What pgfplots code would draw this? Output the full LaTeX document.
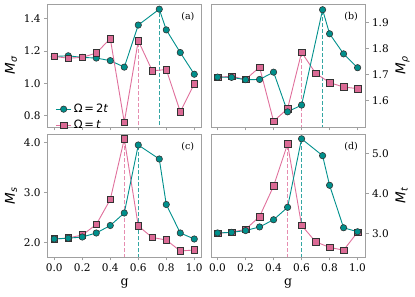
\documentclass[border=0pt]{standalone}
\usepackage{fontspec}
\setmainfont{DejaVu Serif}
\newfontfamily\dvs{DejaVu Sans}
\usepackage{pgfplots}
\pgfplotsset{compat=1.18}
\usepgfplotslibrary{groupplots}
\definecolor{tealc}{HTML}{00908C}
\definecolor{pinkc}{HTML}{E0709C}
\definecolor{pinkf}{HTML}{DB6A95}
\definecolor{edgec}{HTML}{333333}
\definecolor{spine}{HTML}{A0A0A0}
\pgfplotsset{
  gser/.style={color=tealc, line width=0.9pt, mark=*, mark size=3.2pt, mark options={solid, fill=tealc, draw=edgec, line width=0.6pt}},
  pser/.style={color=pinkc, line width=0.9pt, mark=square*, mark size=3.3pt, mark options={solid, fill=pinkf, draw=edgec, line width=0.6pt}},
  gdash/.style={color=tealc!80, dash pattern=on 4pt off 2pt, line width=1.3pt, no marks, forget plot},
  pdash/.style={color=pinkc!80, dash pattern=on 4pt off 2pt, line width=1.3pt, no marks, forget plot},
}
\tikzset{plab/.style={font=\fontsize{9.5}{11}\selectfont}}
\newcommand{\yl}[1]{{\dvs\fontsize{13.5}{15}\selectfont\itshape M\textsubscript{#1}}}
\begin{document}
\begin{tikzpicture}
\begin{groupplot}[
  group style={group size=2 by 2, horizontal sep=9.3pt, vertical sep=7pt, xticklabels at=edge bottom},
  width=154pt, height=123pt, scale only axis,
  xmin=-0.047, xmax=1.053,
  xtick={0,0.2,0.4,0.6,0.8,1.0},
  xtick pos=bottom,
  /pgf/number format/fixed, /pgf/number format/fixed zerofill, /pgf/number format/precision=1, /pgf/number format/assume math mode=true,
  ticklabel style={font=\fontsize{10.5}{12}\selectfont},
  axis line style={spine, line width=0.9pt},
  tick style={spine, line width=0.8pt},
  tick align=outside, major tick length=3.5pt,
  label style={font=\fontsize{12.5}{14}\selectfont},
]
%(a)
\nextgroupplot[ymin=0.73, ymax=1.49, ytick={0.8,1.0,1.2,1.4}, ytick pos=left, ylabel={\yl{σ}},
  legend style={at={(0.03,-0.06)}, anchor=south west, draw=none, fill=none, font={\dvs\fontsize{11.5}{13}\selectfont}, row sep=2pt},
  legend image code/.code={\draw[mark repeat=2,mark phase=2] plot coordinates {(0cm,0cm) (0.27cm,0cm) (0.54cm,0cm)};},
  legend cell align=left]
\addplot[pdash] coordinates {(0.6,0) (0.6,1.263)};
\addplot[gdash] coordinates {(0.75,0) (0.75,1.458)};
\addplot[gser] coordinates {(0,1.166) (0.1,1.170) (0.2,1.160) (0.3,1.156) (0.4,1.140) (0.5,1.100) (0.6,1.360) (0.75,1.458) (0.8,1.330) (0.9,1.190) (1.0,1.056)};
\addlegendentry{Ω\,=\,2\textit{t}}
\addplot[pser] coordinates {(0,1.166) (0.1,1.155) (0.2,1.160) (0.3,1.187) (0.4,1.276) (0.5,0.760) (0.6,1.263) (0.7,1.077) (0.8,1.085) (0.9,0.824) (1.0,0.996)};
\addlegendentry{Ω\,=\,\textit{t}}
\node[plab] at (rel axis cs:0.91,0.9) {(a)};
%(b)
\nextgroupplot[ymin=1.50, ymax=1.971, ytick={1.6,1.7,1.8,1.9}, ytick pos=right, yticklabel pos=right, ylabel near ticks, ylabel={\yl{ρ}}]
\addplot[pdash] coordinates {(0.6,0) (0.6,1.786)};
\addplot[gdash] coordinates {(0.75,0) (0.75,1.949)};
\addplot[pser] coordinates {(0,1.691) (0.1,1.694) (0.2,1.682) (0.3,1.729) (0.4,1.522) (0.5,1.570) (0.6,1.786) (0.7,1.706) (0.8,1.670) (0.9,1.653) (1.0,1.647)};
\addplot[gser] coordinates {(0,1.691) (0.1,1.690) (0.2,1.681) (0.3,1.682) (0.4,1.710) (0.5,1.558) (0.6,1.584) (0.75,1.949) (0.8,1.857) (0.9,1.780) (1.0,1.727)};
\node[plab] at (rel axis cs:0.91,0.9) {(b)};
%(c)
\nextgroupplot[ymin=1.71, ymax=4.17, ytick={2,3,4}, ytick pos=left, ylabel={\yl{s}}, xlabel={g}]
\addplot[pdash] coordinates {(0.5,0) (0.5,4.07)};
\addplot[gdash] coordinates {(0.6,0) (0.6,3.95)};
\addplot[pser] coordinates {(0,2.07) (0.1,2.09) (0.2,2.15) (0.3,2.36) (0.4,2.86) (0.5,4.07) (0.6,2.33) (0.7,2.10) (0.8,2.05) (0.9,1.83) (1.0,1.85)};
\addplot[gser] coordinates {(0,2.07) (0.1,2.086) (0.2,2.11) (0.3,2.19) (0.4,2.34) (0.5,2.59) (0.6,3.95) (0.75,3.67) (0.8,2.76) (0.9,2.19) (1.0,2.07)};
\node[plab] at (rel axis cs:0.91,0.9) {(c)};
%(d)
\nextgroupplot[ymin=2.41, ymax=5.48, ytick={3,4,5}, ytick pos=right, yticklabel pos=right, ylabel near ticks, ylabel={\yl{t}}, xlabel={g}]
\addplot[pdash] coordinates {(0.5,0) (0.5,5.23)};
\addplot[gdash] coordinates {(0.6,0) (0.6,5.36)};
\addplot[pser] coordinates {(0,3.00) (0.1,3.03) (0.2,3.10) (0.3,3.42) (0.4,4.18) (0.5,5.23) (0.6,3.20) (0.7,2.79) (0.8,2.65) (0.9,2.58) (1.0,3.03)};
\addplot[gser] coordinates {(0,3.01) (0.1,3.025) (0.2,3.07) (0.3,3.16) (0.4,3.34) (0.5,3.65) (0.6,5.36) (0.75,4.94) (0.8,4.20) (0.9,3.14) (1.0,3.04)};
\node[plab] at (rel axis cs:0.91,0.9) {(d)};
\end{groupplot}
\pgfresetboundingbox
\path ([xshift=-47.7pt,yshift=4pt]group c1r1.north west) rectangle ++(415pt,-297pt);
\end{tikzpicture}
\end{document}
